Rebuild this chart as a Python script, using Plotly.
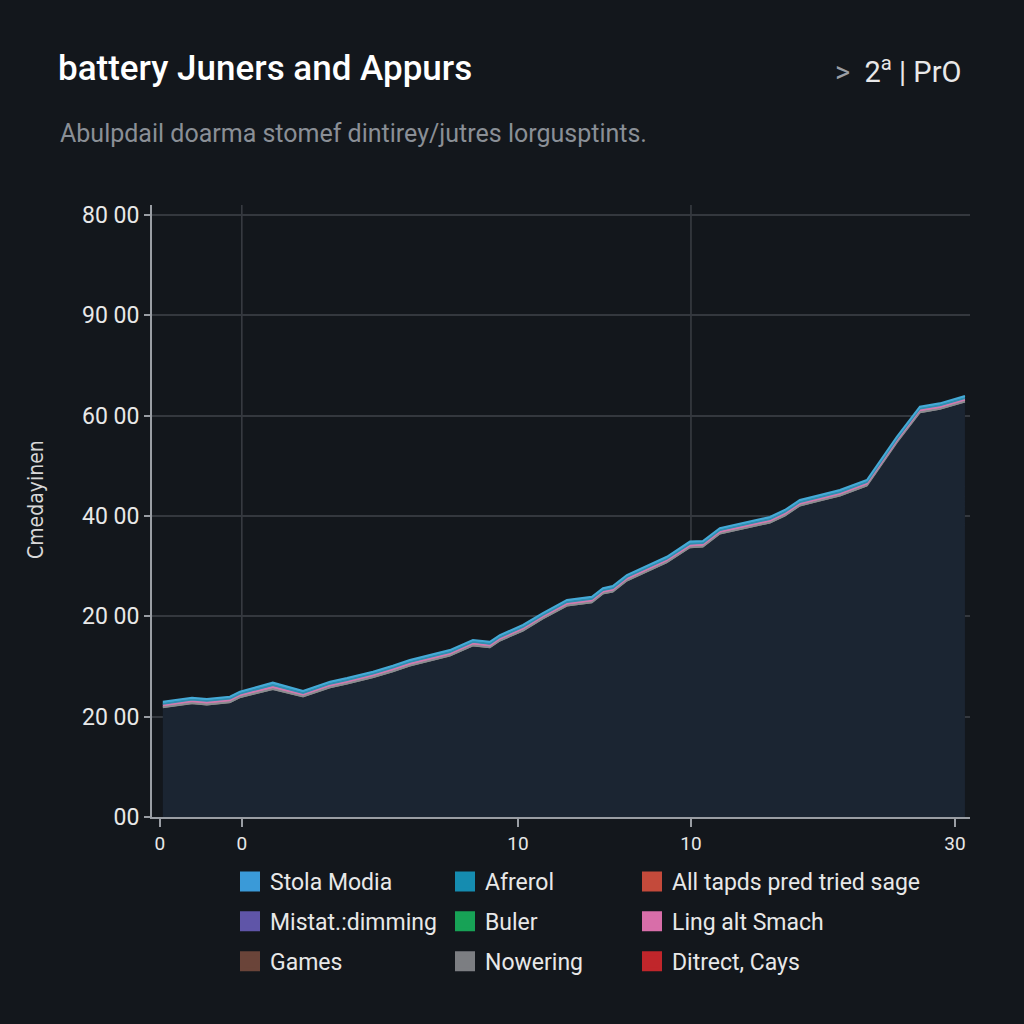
import plotly.graph_objects as go

# ---------------- data ----------------
days = [0.11, 1.21, 1.77, 2.64, 3.02, 4.26, 5.40, 6.42, 7.06, 8.04, 8.79, 9.43,
        10.94, 11.81, 12.45, 12.83, 13.70, 14.45, 15.36, 16.30, 16.72, 17.09, 17.62,
        18.60, 19.13, 20.00, 20.49, 21.13, 22.26, 23.02, 23.58, 24.15, 24.91, 25.66,
        26.68, 27.81, 28.68, 29.43, 30.38]

base_values = [1084, 1124, 1111, 1134, 1184, 1266, 1191, 1284, 1320, 1383, 1443, 1500,
               1599, 1699, 1682, 1749, 1849, 1968, 2098, 2131, 2217, 2237, 2347,
               2467, 2529, 2679, 2685, 2815, 2878, 2925, 2995, 3095, 3144, 3194,
               3294, 3725, 4025, 4058, 4131]

nowering = [12, 12, 10, 12, 12, 10, 12, 10, 10, 12, 10, 10, 10, 12, 10, 10, 10, 12, 10, 10,
            12, 10, 10, 10, 12, 10, 10, 10, 12, 10, 10, 10, 12, 10, 10, 12, 10, 10, 10]
ling_alt_smach = [18, 20, 22, 20, 20, 22, 18, 20, 20, 20, 22, 20, 20, 20, 18, 20, 20, 20, 20, 20,
                  18, 20, 20, 20, 20, 18, 20, 20, 20, 20, 20, 20, 18, 20, 20, 20, 22, 20, 20]
afrerol = [15, 15, 16, 15, 15, 18, 16, 15, 15, 15, 15, 16, 15, 15, 16, 15, 15, 15, 16, 15,
           15, 15, 16, 15, 15, 18, 16, 15, 15, 15, 15, 15, 15, 16, 15, 15, 15, 16, 15]
stola_modia = [20, 18, 17, 18, 18, 25, 20, 20, 20, 18, 18, 19, 20, 18, 21, 20, 20, 18, 19, 20,
               18, 20, 19, 20, 18, 20, 19, 20, 18, 20, 20, 20, 20, 19, 20, 18, 18, 19, 20]

legend_names = [
    ["Stola Modia", "Mistat.:dimming", "Games"],
    ["Afrerol", "Buler", "Nowering"],
    ["All tapds pred tried sage", "Ling alt Smach", "Ditrect, Cays"],
]
legend_colors = [
    ["#3a9ad8", "#5f55a8", "#6a4439"],
    ["#158cb0", "#17a256", "#7c7e82"],
    ["#c44a3b", "#d86ea9", "#c0262b"],
]

y_tickvals = [0, 1000, 2000, 3000, 4000, 5000, 6000]
y_ticktext = ["00", "20 00", "20 00", "40 00", "60 00", "90 00", "80 00"]
x_tickvals = [0, 3.09, 13.51, 20.04, 30]
x_ticktext = ["0", "0", "10", "10", "30"]
grid_days = [3.09, 20.04]

BG = "#13171c"
FONT = "Roboto"

fig = go.Figure()

# base area
fig.add_trace(go.Scatter(
    x=days, y=base_values, stackgroup="s", mode="lines",
    line=dict(width=0, color="#1b2532"), fillcolor="#1b2532",
    showlegend=False, hoverinfo="skip"))

stack = [
    ("Nowering", nowering, "#8a8c90"),
    ("Ling alt Smach", ling_alt_smach, "#d27aae"),
    ("Afrerol", afrerol, "#2f8fb0"),
    ("Stola Modia", stola_modia, "#45a9d6"),
]
for name, vals, col in stack:
    fig.add_trace(go.Scatter(
        x=days, y=vals, stackgroup="s", mode="lines",
        line=dict(width=2, color=col), fillcolor=col,
        name=name, showlegend=False))

# legend entries (three columns)
legend_keys = ["legend", "legend2", "legend3"]
for ci, (names, cols) in enumerate(zip(legend_names, legend_colors)):
    for name, col in zip(names, cols):
        fig.add_trace(go.Scatter(
            x=[None], y=[None], mode="markers", name=name,
            legend=legend_keys[ci], legendgroup=name,
            marker=dict(symbol="square", size=16, color=col,
                        line=dict(color=col, width=4))))

shapes = []
for gx in grid_days:
    shapes.append(dict(type="line", xref="x", yref="paper", x0=gx, x1=gx, y0=0, y1=1,
                       line=dict(color="#3a3e44", width=1.5), layer="below"))

legend_common = dict(
    orientation="v", xref="container", yref="container", yanchor="top", xanchor="left",
    y=1 - 860 / 1024, bgcolor="rgba(0,0,0,0)", font=dict(family=FONT, size=23, color="#e8e8e8"),
    tracegroupgap=7, itemclick=False, itemdoubleclick=False)

fig.update_layout(
    width=1024, height=1024,
    paper_bgcolor=BG, plot_bgcolor=BG,
    font=dict(family=FONT, color="#e8e8e8"),
    margin=dict(l=152, r=54, t=205, b=207, autoexpand=False),
    title=dict(text="battery Juners and Appurs", xref="container", yref="container",
               x=58 / 1024, y=1 - 68 / 1024, xanchor="left", yanchor="middle",
               font=dict(family=FONT, size=35, color="#ffffff", weight=500)),
    xaxis=dict(range=[-0.3, 30.57], tickvals=x_tickvals, ticktext=x_ticktext,
               showgrid=False, zeroline=False, showline=True, linecolor="#9a9ea4",
               linewidth=2, ticks="outside", ticklen=8, tickcolor="#9a9ea4", tickwidth=2,
               tickfont=dict(family=FONT, size=19, color="#e8e8e8")),
    yaxis=dict(range=[0, 6100], tickvals=y_tickvals, ticktext=y_ticktext,
               showgrid=True, gridcolor="#34383e", gridwidth=1.5, zeroline=False,
               showline=True, linecolor="#9a9ea4", linewidth=2, ticks="outside",
               ticklen=6, tickcolor="#9a9ea4", tickwidth=2,
               tickfont=dict(family=FONT, size=23, color="#e8e8e8")),
    shapes=shapes,
    legend=dict(legend_common, x=230 / 1024),
    legend2=dict(legend_common, x=445 / 1024),
    legend3=dict(legend_common, x=632 / 1024),
    annotations=[
        dict(text="Abulpdail doarma stomef dintirey/jutres lorgusptints.",
             xref="paper", yref="paper", x=(58 - 152) / 818, y=(817 - 133) / 612,
             xanchor="left", yanchor="middle", showarrow=False,
             font=dict(family=FONT, size=25, color="#8a8f96")),
        dict(text="<span style='color:#9a9ea4'>&gt;</span>  2<sup>a</sup> | PrO",
             xref="paper", yref="paper", x=(963 - 152) / 818, y=(817 - 70) / 612,
             xanchor="right", yanchor="middle", showarrow=False,
             font=dict(family=FONT, size=29, color="#e8e8e8")),
        dict(text="Cmedayinen", textangle=-90,
             xref="paper", yref="paper", x=(36 - 152) / 818, y=(817 - 500) / 612,
             xanchor="center", yanchor="middle", showarrow=False,
             font=dict(family="DejaVu Sans Condensed, Roboto", size=21, color="#d8d8d8")),
    ],
)

fig.write_html(
    "out.html",
    config={"displayModeBar": False},
    post_script="document.body.style.margin='0';document.body.style.background='#13171c';",
)
